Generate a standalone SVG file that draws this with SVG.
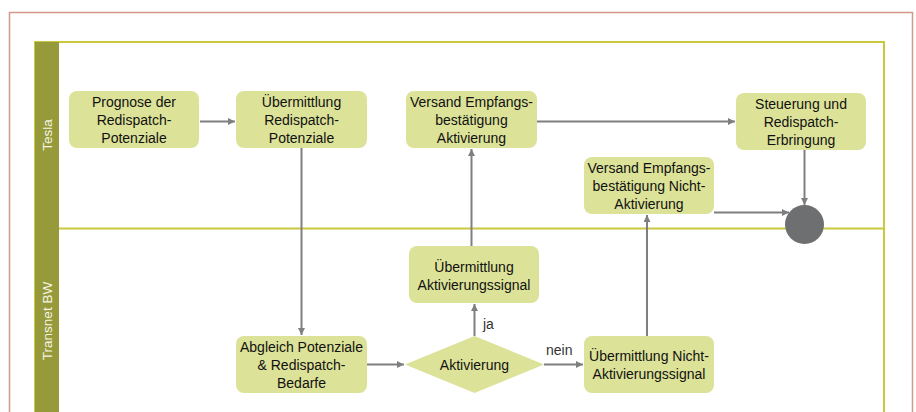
<svg xmlns="http://www.w3.org/2000/svg" width="916" height="412" viewBox="0 0 916 412">
<defs>
<marker id="arr" markerUnits="userSpaceOnUse" markerWidth="8" markerHeight="8" refX="7" refY="3.5" orient="auto">
<path d="M0,0 L7,3.5 L0,7 Z" fill="#7f7f7f"/>
</marker>
<style>
.node{fill:#dce298;stroke:none}
.t{font-family:"Liberation Sans",Arial,sans-serif;font-size:14px;fill:#111;text-anchor:middle}
.lbl{font-family:"Liberation Sans",Arial,sans-serif;font-size:14px;fill:#333}
.lane{font-family:"Liberation Sans",Arial,sans-serif;font-size:13.5px;fill:#f4f4e6;text-anchor:middle}
.c{fill:none;stroke:#7f7f7f;stroke-width:2;marker-end:url(#arr)}
</style>
</defs>
<rect x="0" y="0" width="916" height="412" fill="#fff"/>
<rect x="9.5" y="12.5" width="903" height="420" fill="none" stroke="#d4988a" stroke-width="1.5"/>
<g id="pool">
<rect x="35" y="42" width="849" height="380" fill="none" stroke="#c9c83f" stroke-width="2"/>
<rect x="35" y="42" width="24" height="380" fill="#969a3a"/>
<line x1="59" y1="228.5" x2="884" y2="228.5" stroke="#c9c83f" stroke-width="2"/>
<text class="lane" transform="translate(52,135) rotate(-90)">Tesla</text>
<text class="lane" transform="translate(52,321) rotate(-90)">Transnet BW</text>
</g>
<g id="connectors">
<line class="c" x1="200" y1="121.5" x2="235" y2="121.5"/>
<line class="c" x1="301.5" y1="148" x2="301.5" y2="335"/>
<line class="c" x1="367" y1="364.5" x2="404" y2="364.5"/>
<line class="c" x1="474.5" y1="336" x2="474.5" y2="304"/>
<line class="c" x1="544" y1="364.5" x2="583" y2="364.5"/>
<line class="c" x1="471.5" y1="246" x2="471.5" y2="149"/>
<line class="c" x1="647" y1="336" x2="647" y2="215"/>
<line class="c" x1="537" y1="121.5" x2="735" y2="121.5"/>
<line class="c" x1="804.5" y1="150" x2="804.5" y2="205"/>
<line class="c" x1="714" y1="212.5" x2="789" y2="212.5"/>
<text class="lbl" x="483" y="329">ja</text>
<text class="lbl" x="546" y="355">nein</text>
</g>
<g id="n1">
<rect class="node" x="69" y="91" width="130" height="57" rx="8"/>
<text class="t" x="134" y="107">Prognose der</text>
<text class="t" x="134" y="125">Redispatch-</text>
<text class="t" x="134" y="143">Potenziale</text>
</g>
<g id="n2">
<rect class="node" x="236" y="91" width="131" height="57" rx="8"/>
<text class="t" x="301.5" y="107">Übermittlung</text>
<text class="t" x="301.5" y="125">Redispatch-</text>
<text class="t" x="301.5" y="143">Potenziale</text>
</g>
<g id="n3">
<rect class="node" x="406" y="91" width="131" height="57" rx="8"/>
<text class="t" x="471.5" y="107">Versand Empfangs-</text>
<text class="t" x="471.5" y="125">bestätigung</text>
<text class="t" x="471.5" y="143">Aktivierung</text>
</g>
<g id="n4">
<rect class="node" x="736" y="93" width="130" height="57" rx="8"/>
<text class="t" x="801" y="109">Steuerung und</text>
<text class="t" x="801" y="127">Redispatch-</text>
<text class="t" x="801" y="145">Erbringung</text>
</g>
<g id="n5">
<rect class="node" x="584" y="157" width="130" height="57" rx="8"/>
<text class="t" x="649" y="173">Versand Empfangs-</text>
<text class="t" x="649" y="191">bestätigung Nicht-</text>
<text class="t" x="649" y="209">Aktivierung</text>
</g>
<g id="end">
<circle cx="804.5" cy="224.5" r="19.5" fill="#6d6f71"/>
</g>
<g id="n7">
<rect class="node" x="409" y="246" width="130" height="57" rx="8"/>
<text class="t" x="474" y="271.5">Übermittlung</text>
<text class="t" x="474" y="289.5">Aktivierungssignal</text>
</g>
<g id="n8">
<rect class="node" x="236" y="336" width="131" height="57" rx="8"/>
<text class="t" x="301.5" y="352">Abgleich Potenziale</text>
<text class="t" x="301.5" y="370">&amp; Redispatch-</text>
<text class="t" x="301.5" y="388">Bedarfe</text>
</g>
<g id="n9">
<polygon class="node" points="405,364.5 474.5,336 544,364.5 474.5,393"/>
<text class="t" x="474.5" y="369.5">Aktivierung</text>
</g>
<g id="n10">
<rect class="node" x="584" y="336" width="130" height="57" rx="8"/>
<text class="t" x="649" y="361">Übermittlung Nicht-</text>
<text class="t" x="649" y="379">Aktivierungssignal</text>
</g>
</svg>
